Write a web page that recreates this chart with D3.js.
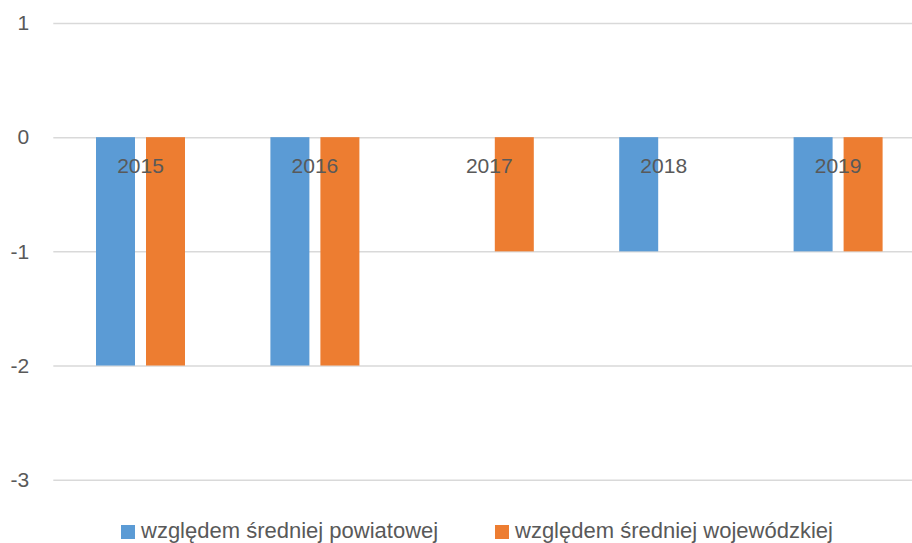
<!DOCTYPE html>
<html>
<head>
<meta charset="utf-8">
<script src="https://cdn.jsdelivr.net/npm/d3@7"></script>
<style>
  body { margin: 0; background: #fff; }
  svg { display: block; font-family: "Liberation Sans", Arial, sans-serif; }
</style>
</head>
<body>
<div id="chart"></div>
<script>
// data
var years = ["2015", "2016", "2017", "2018", "2019"];
var seriesNames = ["względem średniej powiatowej", "względem średniej wojewódzkiej"];
var powiatowej = [-2, -2, 0, -1, -1];
var wojewodzkiej = [-2, -2, -1, 0, -1];
var yTicks = [1, 0, -1, -2, -3];
var colours = ["#5b9bd5", "#ed7d31"];

var width = 912, height = 543;
var left = 53.3, right = 925.3;

var svg = d3.select("#chart").append("svg")
  .attr("width", width)
  .attr("height", height);

var y = d3.scaleLinear().domain([-3, 1]).range([479.7, 23]);
var x0 = d3.scaleBand().domain(years).range([left, right]);
var x1 = d3.scaleBand().domain(seriesNames)
  .range([x0.bandwidth() / 2 - 44.5, x0.bandwidth() / 2 + 44.5])
  .paddingInner(0.22);

// gridlines + y labels (plain hyphen minus like the original)
var yAxis = d3.axisLeft(y)
  .tickValues(yTicks)
  .tickFormat(function (d) { return String(d); })
  .tickSize(-(right - left))
  .tickPadding(24);
var gy = svg.append("g")
  .attr("transform", "translate(" + left + ",0)")
  .call(yAxis);
gy.select(".domain").remove();
gy.selectAll(".tick line").attr("stroke", "#d9d9d9").attr("stroke-width", 1.5);
gy.selectAll(".tick text")
  .attr("fill", "#595959")
  .style("font-size", "21px")
  .style("font-family", "Liberation Sans, Arial, sans-serif");

var rows = years.map(function (yr, i) {
  return { year: yr, values: [powiatowej[i], wojewodzkiej[i]] };
});

var groups = svg.selectAll(".grp")
  .data(rows)
  .enter().append("g")
  .attr("class", "grp")
  .attr("transform", function (d) { return "translate(" + x0(d.year) + ",0)"; });

groups.selectAll("rect")
  .data(function (d) {
    return d.values.map(function (v, k) { return { name: seriesNames[k], v: v, k: k }; });
  })
  .enter().append("rect")
  .attr("x", function (d) { return x1(d.name); })
  .attr("width", x1.bandwidth())
  .attr("y", function (d) { return y(Math.max(0, d.v)); })
  .attr("height", function (d) { return Math.abs(y(d.v) - y(0)); })
  .attr("fill", function (d) { return colours[d.k]; });

// category labels sit on the zero line
var xAxis = d3.axisBottom(x0).tickSize(0).tickPadding(21);
var gx = svg.append("g")
  .attr("transform", "translate(0," + y(0) + ")")
  .call(xAxis);
gx.select(".domain").remove();
gx.selectAll(".tick text")
  .attr("fill", "#595959")
  .style("font-size", "21px")
  .style("font-family", "Liberation Sans, Arial, sans-serif");

// legend
var legendX = [121, 495];
var legend = svg.selectAll(".leg")
  .data(seriesNames)
  .enter().append("g")
  .attr("class", "leg")
  .attr("transform", function (d, i) { return "translate(" + legendX[i] + ",525)"; });
legend.append("rect")
  .attr("width", 14).attr("height", 14)
  .attr("fill", function (d, i) { return colours[i]; });
legend.append("text")
  .attr("x", 20).attr("y", 13)
  .attr("fill", "#595959")
  .style("font-size", "22px")
  .text(function (d) { return d; });
</script>
</body>
</html>
